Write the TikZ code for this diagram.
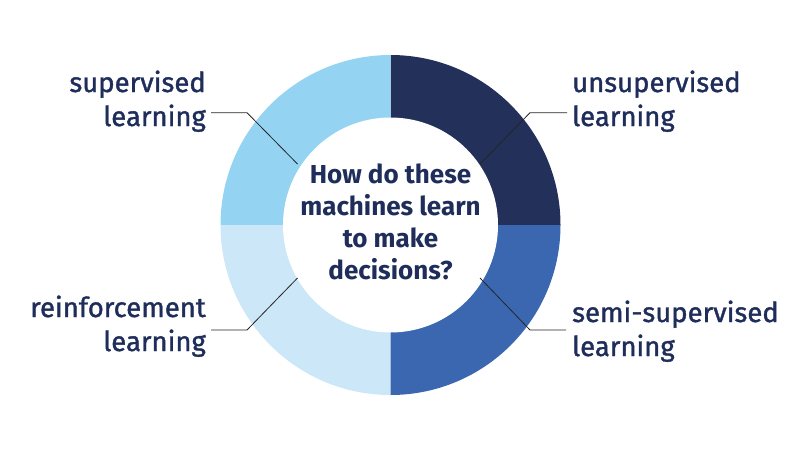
\documentclass[tikz,border=0pt]{standalone}
\usepackage{fontspec}
\setmainfont{Fira Sans}
\newfontfamily\medfont{Fira Sans}[FakeBold=1.3]
\definecolor{navy}{HTML}{22305A}
\definecolor{midblue}{HTML}{3A67AF}
\definecolor{lightblue}{HTML}{94D4F2}
\definecolor{paleblue}{HTML}{CBE7F8}
\definecolor{txt}{HTML}{1F2D5B}
\tikzset{
  lbl/.style={text=txt, font=\medfont\fontsize{27.5}{34}\selectfont, inner sep=0pt},
  lead/.style={draw=black!85, line width=0.8pt},
  center text/.style={text=txt, font=\bfseries\fontsize{26}{32}\selectfont, align=center, inner sep=0pt}
}
\begin{document}
\begin{tikzpicture}[x=1pt,y=1pt]
\useasboundingbox (0,0) rectangle (800,-450);
\coordinate (C) at (390.5,-225);
% donut
\fill[navy] (C) -- ++(0:170) arc (0:90:170) -- cycle;
\fill[lightblue] (C) -- ++(90:170) arc (90:180:170) -- cycle;
\fill[paleblue] (C) -- ++(180:170) arc (180:270:170) -- cycle;
\fill[midblue] (C) -- ++(270:170) arc (270:360:170) -- cycle;
\fill[white] (C) circle (107.5);
% center text
\node[center text] (q) at (390.5,-222) {How do these\\machines learn\\to make\\decisions?};
% labels (base anchor = baseline of last line)
\node[lbl, anchor=base east, align=right] (sup) at (206,-126) {supervised\\learning};
\node[lbl, anchor=base west, align=left] (uns) at (572,-126) {unsupervised\\learning};
\node[lbl, anchor=base east, align=right] (rei) at (206,-351) {reinforcement\\learning};
\node[lbl, anchor=base west, align=left] (sem) at (572,-356) {semi-supervised\\learning};
% leader points
\coordinate (supA) at (211,-112.7);
\coordinate (supB) at (247,-112.7);
\coordinate (supC) at (297.5,-164);
\coordinate (unsA) at (567,-112.7);
\coordinate (unsB) at (530,-112.7);
\coordinate (unsC) at (480,-164);
\coordinate (reiA) at (211,-330);
\coordinate (reiB) at (247,-330);
\coordinate (reiC) at (297.5,-278);
\coordinate (semA) at (566,-330);
\coordinate (semB) at (530,-330);
\coordinate (semC) at (480,-278);
\draw[lead] (supA) -- (supB) -- (supC);
\draw[lead] (unsA) -- (unsB) -- (unsC);
\draw[lead] (reiA) -- (reiB) -- (reiC);
\draw[lead] (semA) -- (semB) -- (semC);
\end{tikzpicture}
\end{document}
